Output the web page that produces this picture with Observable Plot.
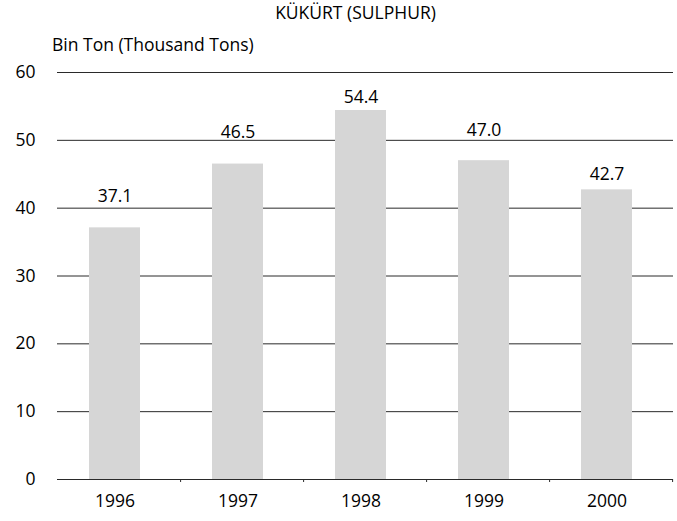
<!DOCTYPE html>
<html>
<head>
<meta charset="utf-8">
<script src="https://cdn.jsdelivr.net/npm/d3@7"></script>
<script src="https://cdn.jsdelivr.net/npm/@observablehq/plot@0.6"></script>
<style>
  body { margin: 0; background: #fff; font-family: "Open Sans", sans-serif; }
  #wrap { position: relative; width: 677px; height: 521px; }
  #title { position: absolute; top: 2px; left: 0; width: 677px; padding-left: 34px; box-sizing: border-box; text-align: center; font-size: 17.5px; font-weight: 500; line-height: 20px; color: #000; }
  #ylab { position: absolute; top: 34px; left: 52px; font-size: 17.5px; font-weight: 500; line-height: 20px; color: #000; }
  #chart { position: absolute; top: 30px; left: 0; }
</style>
</head>
<body>
<div id="wrap">
  <div id="title">KÜKÜRT (SULPHUR)</div>
  <div id="ylab">Bin Ton (Thousand Tons)</div>
  <div id="chart"></div>
</div>
<script>
const years = ["1996", "1997", "1998", "1999", "2000"];
const values = [37.1, 46.5, 54.4, 47.0, 42.7];
const yTicks = [0, 10, 20, 30, 40, 50, 60];

const data = years.map((y, i) => ({year: y, value: values[i]}));
const step = 616 / years.length;
// label lift above each bar (in value units), as placed in the original
const labelLift = [4.6, 4.7, 2.0, 4.4, 2.3];

const chart = Plot.plot({
  width: 677,
  height: 491,
  marginLeft: 57,
  marginRight: 4,
  marginTop: 42,
  marginBottom: 42,
  style: {fontFamily: "Open Sans, sans-serif", fontSize: "17.5px", fontWeight: 500, color: "#000"},
  x: {domain: years, paddingInner: 0.585, paddingOuter: 0.2925, label: null},
  y: {domain: [0, 60], label: null},
  marks: [
    Plot.ruleY(yTicks, {stroke: "#2a2a2a", strokeWidth: 1}),
    Plot.barY(data, {x: "year", y: "value", fill: "#d6d6d6", dx: -4}),
    Plot.text(data, {x: "year", y: (d, i) => d.value + labelLift[i], text: d => d.value.toFixed(1), dx: -4, dy: 0, fontSize: 17.5, fontWeight: 500, fill: "#000"}),
    Plot.axisX({tickSize: 3, text: null, dx: step / 2, stroke: "#2a2a2a"}),
    Plot.axisX({tickSize: 0, tickPadding: 15, dx: -4, fontSize: 17.5, fontWeight: 500}),
    Plot.axisY({ticks: yTicks, tickSize: 0, tickPadding: 22, fontSize: 17.5, fontWeight: 500})
  ]
});
document.getElementById("chart").appendChild(chart);
</script>
</body>
</html>
